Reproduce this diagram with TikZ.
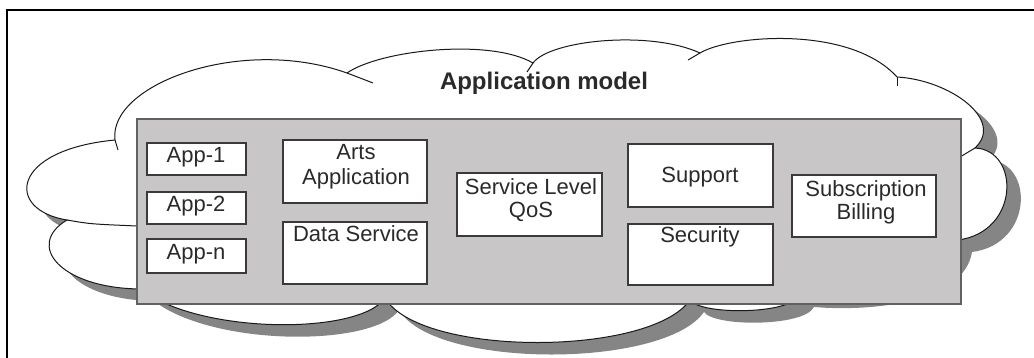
\documentclass[tikz,border=0pt]{standalone}
\usepackage{fontspec}
\setmainfont{Liberation Sans}
\definecolor{rectgray}{HTML}{C8C6C6}
\definecolor{shadowgray}{HTML}{858585}
\definecolor{boxline}{HTML}{3A3A3A}
\definecolor{txtc}{HTML}{2A2A2A}
\newcommand\mycloudpath{(115,140) .. controls (108,85) and (240,35) .. (347,73)
 .. controls (380,50) and (490,38) .. (533,63)
 .. controls (550,40) and (650,30) .. (700,53)
 .. controls (730,35) and (850,25) .. (897,77)
 .. controls (950,80) and (1005,120) .. (975,148)
 .. controls (1020,150) and (1020,232) .. (958,240)
 .. controls (950,290) and (860,300) .. (800,295)
 .. controls (790,315) and (700,315) .. (690,300)
 .. controls (650,357) and (420,357) .. (385,298)
 .. controls (360,335) and (200,335) .. (140,289)
 .. controls (60,288) and (25,245) .. (67,220)
 .. controls (5,210) and (10,150) .. (115,140) -- cycle}
\begin{document}
\begin{tikzpicture}[x=1pt,y=-1pt,
  cloudline/.style={draw=black!90,line width=1pt},
  panel/.style={draw=boxline!80,fill=rectgray,line width=1.2pt},
  boxnode/.style={draw=boxline,fill=white,line width=1.6pt,inner sep=0pt},
  txt/.style={font=\fontsize{22}{24}\selectfont,text=txtc,inner sep=0pt,anchor=base},
  titletxt/.style={font=\fontsize{24}{28}\selectfont\bfseries,text=txtc,inner sep=0pt,anchor=base}]
\useasboundingbox (0,0) rectangle (1034,358);
% frame
\draw[line width=2.6pt] (7,358) -- (7,10) -- (1034,10);
% cloud shadow
\begin{scope}[shift={(14,12)}]
\fill[shadowgray] \mycloudpath;
\end{scope}
% cloud
\path[fill=white,cloudline] \mycloudpath;
\draw[cloudline] (115,140) -- (118,150);
\draw[cloudline] (347,73) -- (373,83);
\draw[cloudline] (533,63) -- (527,72);
\draw[cloudline] (700,53) -- (688,60);
\draw[cloudline] (897,77) -- (897,86);
\draw[cloudline] (975,148) -- (960,157);
\draw[cloudline] (67,220) .. controls (90,224) .. (137,226);
% title
\node[titletxt] (title) at (544,90) {Application model};
% panel
\node[panel,minimum width=824pt,minimum height=185pt,inner sep=0pt] (panel) at (549,211.5) {};
% boxes
\node[boxnode,minimum width=99pt,minimum height=32pt] (app1) at (196.5,159) {};
\node[boxnode,minimum width=99pt,minimum height=32pt] (app2) at (196.5,208) {};
\node[boxnode,minimum width=99pt,minimum height=34pt] (appn) at (196.5,256) {};
\node[boxnode,minimum width=144pt,minimum height=63pt] (arts) at (355,171.5) {};
\node[boxnode,minimum width=144pt,minimum height=62pt] (data) at (355,253) {};
\node[boxnode,minimum width=145pt,minimum height=63pt] (sla) at (529.5,204.5) {};
\node[boxnode,minimum width=145pt,minimum height=63pt] (support) at (700.5,175.5) {};
\node[boxnode,minimum width=145pt,minimum height=61pt] (security) at (700.5,254.5) {};
\node[boxnode,minimum width=144pt,minimum height=62pt] (billing) at (864,206) {};
% labels
\node[txt] (t1) at (196,163) {App-1};
\node[txt] (t2) at (196,212) {App-2};
\node[txt] (tn) at (196,260) {App-n};
\node[txt] (ta1) at (356,160) {Arts};
\node[txt] (ta2) at (356,185) {Application};
\node[txt] (td) at (356,242) {Data Service};
\node[txt] (ts1) at (531,195) {Service Level};
\node[txt] (ts2) at (531,218) {QoS};
\node[txt] (tsu) at (700,183) {Support};
\node[txt] (tse) at (700,243) {Security};
\node[txt] (tb1) at (866,197) {Subscription};
\node[txt] (tb2) at (866,220) {Billing};
\end{tikzpicture}
\end{document}
